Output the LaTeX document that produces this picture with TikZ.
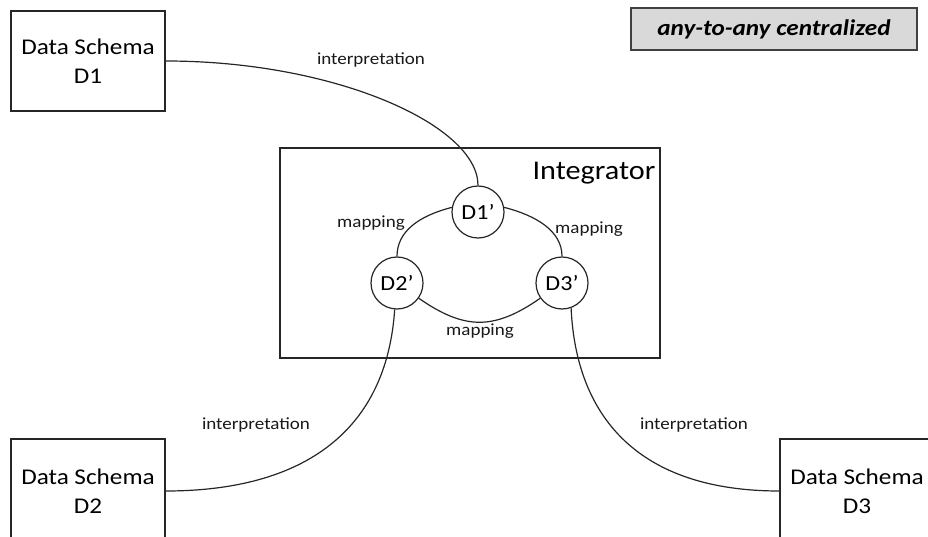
\documentclass[tikz,border=0pt]{standalone}
\usepackage{fontspec}
\setmainfont{Carlito}[FakeStretch=1.12]
\begin{document}
\begin{tikzpicture}[x=1pt,y=-1pt,
  schema/.style={draw=black!85, line width=1.2pt, minimum width=154pt, minimum height=100pt, align=center, font=\fontsize{22.5}{29}\selectfont, inner sep=0pt, text=black},
  dnode/.style={circle, draw=black!85, fill=white, line width=1.2pt, minimum size=52pt, inner sep=0pt, font=\fontsize{21.5}{24}\selectfont, text=black},
  lbl/.style={font=\fontsize{17}{19}\selectfont, inner sep=0pt, text=black!90},
  conn/.style={line width=1.2pt, draw=black!85}]
\useasboundingbox (0,0) rectangle (928,537);
\clip (0,0) rectangle (928,537);
% boxes
\node[schema] (d1) at (88,61) {Data Schema\\D1};
\node[schema, minimum height=104pt] (d2) at (88,491) {Data Schema\\D2};
\node[schema, minimum height=104pt] (d3) at (857,491) {Data Schema\\D3};
\node[draw=black!75, fill=gray!30, line width=1.5pt, minimum width=286pt, minimum height=42pt, inner sep=0pt, text=black, font=\fontsize{22.5}{26}\selectfont\bfseries\itshape] (title) at (774,29) {any-to-any centralized};
\node[draw=black!85, line width=1.2pt, minimum width=380pt, minimum height=210pt, inner sep=0pt] (integ) at (470,253) {};
\node[font=\fontsize{27}{30}\selectfont, inner sep=0pt, text=black] (integlbl) at (594,173) {Integrator};
% inner nodes
\node[dnode] (d1p) at (478,212) {D1’};
\node[dnode] (d2p) at (397,283) {D2’};
\node[dnode] (d3p) at (562,283) {D3’};
% mapping connectors
\draw[conn] (d1p.170) .. controls +(-33,8.5) and +(0,-25) .. (d2p.north);
\draw[conn] (d1p.10) .. controls +(33,8.5) and +(0,-25) .. (d3p.north);
\draw[conn] (d2p.-35) .. controls +(46,32) and +(-46,32) .. (d3p.215);
% interpretation connectors
\draw[conn] (d1.east) .. controls +(170,0) and +(0,-60) .. (d1p.north);
\draw[conn] (d2.east) .. controls +(140,0) and +(-8,120) .. (d2p.-95);
\draw[conn] (d3.west) .. controls +(-140,0) and +(5,110) .. (d3p.-70);
% labels
\node[lbl] (l1) at (371,60) {interpretation};
\node[lbl] (l2) at (256,425) {interpretation};
\node[lbl] (l3) at (694,425) {interpretation};
\node[lbl] (m1) at (371,223) {mapping};
\node[lbl] (m2) at (589,229) {mapping};
\node[lbl] (m3) at (480,331) {mapping};
\end{tikzpicture}
\end{document}
